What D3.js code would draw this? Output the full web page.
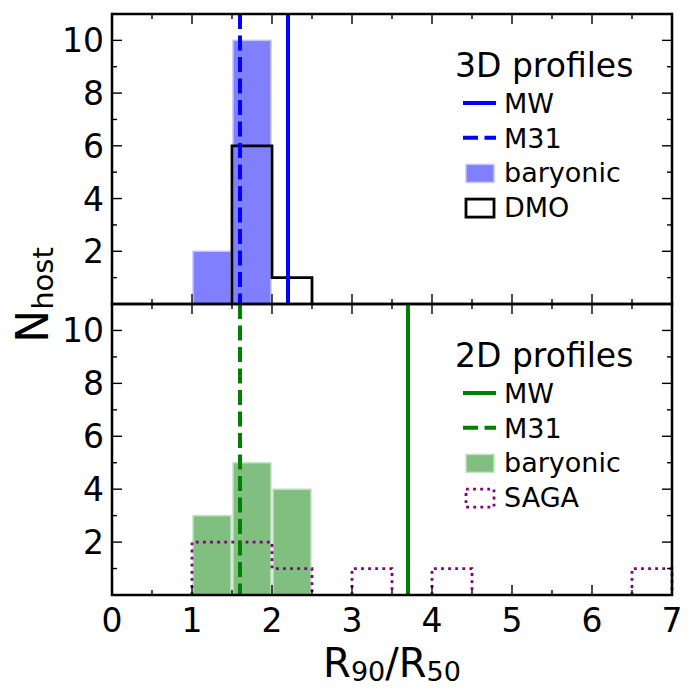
<!DOCTYPE html>
<html>
<head>
<meta charset="utf-8">
<script src="https://cdn.jsdelivr.net/npm/d3@7"></script>
<style>
  body { margin: 0; background: #fff; }
  text { font-family: "DejaVu Sans", sans-serif; }
</style>
</head>
<body>
<svg id="chart" width="700" height="700"></svg>
<script>
// ---- data ----
const binEdges = [0, 0.5, 1, 1.5, 2, 2.5, 3, 3.5, 4, 4.5, 5, 5.5, 6, 6.5, 7];
const baryonic3D = [0, 0, 2, 10, 0, 0, 0, 0, 0, 0, 0, 0, 0, 0];
const dmo3D      = [0, 0, 0, 6, 1, 0, 0, 0, 0, 0, 0, 0, 0, 0];
const baryonic2D = [0, 0, 3, 5, 4, 0, 0, 0, 0, 0, 0, 0, 0, 0];
const saga2D     = [0, 0, 2, 2, 1, 0, 1, 0, 1, 0, 0, 0, 0, 1];
const mw3D = 2.2, m31_3D = 1.6;
const mw2D = 3.7, m31_2D = 1.6;
const xTicks = [0, 1, 2, 3, 4, 5, 6, 7];
const yTicks = [2, 4, 6, 8, 10];

const svg = d3.select("#chart");
const L = 112, R = 672, T = 14, M = 304, B = 595;
const x = d3.scaleLinear().domain([0, 7]).range([L, R]);
const yTop = d3.scaleLinear().domain([0, 11]).range([M, T]);
const yBot = d3.scaleLinear().domain([0, 11]).range([B, M]);
const DASH = "15,6.5";
const DOT = "2.8,4.3";

function stepPath(counts, y) {
  const segs = [];
  let cur = null;
  counts.forEach((c, i) => {
    if (c > 0) {
      if (!cur) { cur = []; segs.push(cur); }
      cur.push(i);
    } else cur = null;
  });
  let d = "";
  segs.forEach(s => {
    const i0 = s[0], i1 = s[s.length - 1];
    d += `M${x(binEdges[i0])},${y(0)}`;
    s.forEach(i => {
      d += `L${x(binEdges[i])},${y(counts[i])}L${x(binEdges[i + 1])},${y(counts[i])}`;
    });
    d += `L${x(binEdges[i1 + 1])},${y(0)}`;
  });
  return d;
}

function drawPanel(y, top, bottom, cfg) {
  const g = svg.append("g");
  cfg.bars.forEach((c, i) => {
    if (c <= 0) return;
    g.append("rect")
      .attr("x", x(binEdges[i]) + 1)
      .attr("width", x(binEdges[i + 1]) - x(binEdges[i]) - 2)
      .attr("y", y(c))
      .attr("height", y(0) - y(c))
      .attr("fill", cfg.fill)
      .attr("stroke", cfg.edge)
      .attr("stroke-width", 1.5);
  });
  g.append("path").attr("d", stepPath(cfg.step, y))
    .attr("fill", "none").attr("stroke", cfg.stepColor)
    .attr("stroke-width", 2.8)
    .attr("stroke-dasharray", cfg.stepDash || null)
    .attr("stroke-linejoin", "miter");
  g.append("line").attr("x1", x(cfg.mw)).attr("x2", x(cfg.mw))
    .attr("y1", top).attr("y2", bottom)
    .attr("stroke", cfg.lineColor).attr("stroke-width", 4);
  g.append("line").attr("x1", x(cfg.m31)).attr("x2", x(cfg.m31))
    .attr("y1", top).attr("y2", bottom)
    .attr("stroke", cfg.lineColor).attr("stroke-width", 4)
    .attr("stroke-dasharray", DASH);

  const tg = svg.append("g").attr("stroke", "#000").attr("stroke-width", 1.4);
  const xMinor = d3.range(0.5, 7, 1);
  const yMinor = [1, 3, 5, 7, 9];
  xTicks.forEach(v => {
    tg.append("line").attr("x1", x(v)).attr("x2", x(v)).attr("y1", bottom).attr("y2", bottom - 10);
    tg.append("line").attr("x1", x(v)).attr("x2", x(v)).attr("y1", top).attr("y2", top + 10);
  });
  xMinor.forEach(v => {
    tg.append("line").attr("x1", x(v)).attr("x2", x(v)).attr("y1", bottom).attr("y2", bottom - 5);
    tg.append("line").attr("x1", x(v)).attr("x2", x(v)).attr("y1", top).attr("y2", top + 5);
  });
  yTicks.forEach(v => {
    tg.append("line").attr("x1", L).attr("x2", L + 10).attr("y1", y(v)).attr("y2", y(v));
    tg.append("line").attr("x1", R).attr("x2", R - 10).attr("y1", y(v)).attr("y2", y(v));
  });
  yMinor.forEach(v => {
    tg.append("line").attr("x1", L).attr("x2", L + 5).attr("y1", y(v)).attr("y2", y(v));
    tg.append("line").attr("x1", R).attr("x2", R - 5).attr("y1", y(v)).attr("y2", y(v));
  });
  yTicks.forEach(v => {
    svg.append("text").attr("x", L - 8).attr("y", y(v) + 12)
      .attr("text-anchor", "end").attr("font-size", 33).text(v);
  });
  svg.append("rect").attr("x", L).attr("y", top).attr("width", R - L).attr("height", bottom - top)
    .attr("fill", "none").attr("stroke", "#000").attr("stroke-width", 2.5);

  const ly = cfg.legendY;
  svg.append("text").attr("x", 455).attr("y", ly).attr("font-size", 33).text(cfg.title);
  cfg.legend.forEach((e, i) => {
    const by = ly + 36 + i * 34.7;
    const cy = by - 10;
    if (e.type === "line") {
      svg.append("line").attr("x1", 463).attr("x2", 496).attr("y1", cy).attr("y2", cy)
        .attr("stroke", e.color).attr("stroke-width", 4)
        .attr("stroke-dasharray", e.dash || null);
    } else {
      svg.append("rect").attr("x", 466).attr("y", cy - 8).attr("width", 28).attr("height", 18)
        .attr("fill", e.fill).attr("stroke", e.stroke).attr("stroke-width", e.sw)
        .attr("stroke-dasharray", e.dash || null);
    }
    svg.append("text").attr("x", 504).attr("y", by).attr("font-size", 27).text(e.label);
  });
}

drawPanel(yTop, T, M, {
  bars: baryonic3D, fill: "#8080ff", edge: "#c4c4ff",
  step: dmo3D, stepColor: "#000",
  mw: mw3D, m31: m31_3D, lineColor: "#0000ff",
  title: "3D profiles", legendY: 77,
  legend: [
    { type: "line", color: "#0000ff", label: "MW" },
    { type: "line", color: "#0000ff", dash: DASH, label: "M31" },
    { type: "patch", fill: "#8080ff", stroke: "#c4c4ff", sw: 1.5, label: "baryonic" },
    { type: "patch", fill: "none", stroke: "#000", sw: 2.8, label: "DMO" }
  ]
});

drawPanel(yBot, M, B, {
  bars: baryonic2D, fill: "#80bf80", edge: "#c4e2c4",
  step: saga2D, stepColor: "#800080", stepDash: DOT,
  mw: mw2D, m31: m31_2D, lineColor: "#008000",
  title: "2D profiles", legendY: 367,
  legend: [
    { type: "line", color: "#008000", label: "MW" },
    { type: "line", color: "#008000", dash: DASH, label: "M31" },
    { type: "patch", fill: "#80bf80", stroke: "#c4e2c4", sw: 1.5, label: "baryonic" },
    { type: "patch", fill: "none", stroke: "#800080", sw: 2.8, dash: DOT, label: "SAGA" }
  ]
});

xTicks.forEach(v => {
  svg.append("text").attr("x", x(v)).attr("y", B + 37)
    .attr("text-anchor", "middle").attr("font-size", 33).text(v);
});

const xl = svg.append("text").attr("x", 392).attr("y", 677).attr("text-anchor", "middle").attr("font-size", 40);
xl.append("tspan").text("R");
xl.append("tspan").attr("font-size", 27).attr("dy", 4).text("90");
xl.append("tspan").attr("dy", -4).text("/R");
xl.append("tspan").attr("font-size", 27).attr("dy", 4).text("50");

const yl = svg.append("text").attr("transform", "translate(48,295) rotate(-90)")
  .attr("text-anchor", "middle").attr("font-size", 44);
yl.append("tspan").text("N");
yl.append("tspan").attr("font-size", 29).attr("dy", 5).text("host");
</script>
</body>
</html>
